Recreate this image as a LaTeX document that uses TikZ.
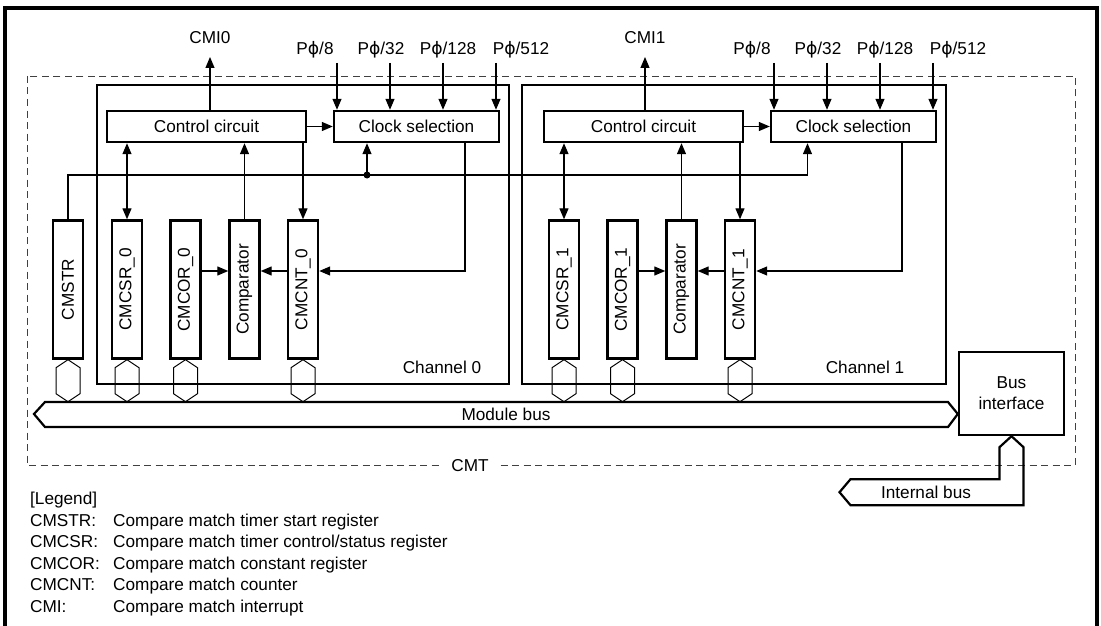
\documentclass[tikz,border=0pt]{standalone}
\usepackage{fontspec}
\usepackage{graphicx}
\setmainfont{Liberation Sans}
\newfontfamily\phifont{DejaVu Sans}
\usetikzlibrary{arrows.meta}
\newcommand{\Pphi}{P{\phifont ϕ}}

\tikzset{
    blk/.style={draw, line width=2.4pt, minimum width=#1, minimum height=31pt},
    reg/.style={draw, line width=2.4pt, minimum width=30pt, minimum height=138pt},
    txt/.style={text height=12.3pt, text depth=0pt},
    conn/.style={line width=1.2pt},
    hexa/.style={line width=1pt},
    bus/.style={line width=2.2pt, line join=miter},
    chan/.style={line width=2.6pt}
}

\begin{document}
\begin{tikzpicture}[>={Triangle[length=11pt,width=9pt]}, x=1pt, y=-1pt, inner sep=0,
    font=\fontsize{17.2}{21}\selectfont]
\useasboundingbox (0,0) rectangle (1101,626);
\draw[line width=3.2pt] (5,626) -- (5,8) -- (1097,8) -- (1097,626);
\draw[line width=.9pt, black!75, dash pattern=on 7pt off 4.5pt] (27,76) rectangle (1075,465);
\node[txt, fill=white, inner xsep=10pt, inner ysep=2pt] (cmt) at (470,465) {CMT};

\foreach \ch/\dx/\cmx/\bl/\lx in {0/0/210/97/442, 1/437/645/522/865}
{
    \draw[chan] (\bl,85) rectangle (\dx+509,384);
    \node[txt] (chl\ch) at (\lx,367) {Channel \ch};
    \node[blk=199pt] (cc\ch) at (\dx+206.5,126.5) {Control circuit};
    \node[blk=165pt] (cs\ch) at (\dx+416.5,126.5) {Clock selection};
    \node[txt] (cmi\ch) at (\cmx,37.5) {CMI\ch};
    \coordinate (cmitip\ch) at (\cmx,57);
    \draw[conn,->] (cc\ch.north -| cmi\ch) -- (cmitip\ch);
    \draw[conn,->] (cc\ch) -- (cs\ch);
    \foreach \px/\qx/\rate in {337/315/8, 390/381/32, 443/448/128, 496/521/512}
    {
        \node[txt] (p\rate\ch) at (\dx+\qx,48.5) {\Pphi/\rate};
        \coordinate (pt\rate\ch) at (\dx+\px,63);
        \draw[conn,->] (pt\rate\ch) -- (pt\rate\ch |- cs\ch.north);
    }
    \node[reg] (csr\ch) at (\dx+127,289.5) {\rotatebox{90}{CMCSR\_\ch}};
    \node[reg] (cor\ch) at (\dx+185.5,289.5) {\rotatebox{90}{CMCOR\_\ch}};
    \node[reg] (cmp\ch) at (\dx+244.5,289.5) {\rotatebox{90}{Comparator}};
    \node[reg] (cnt\ch) at (\dx+303,289.5) {\rotatebox{90}{CMCNT\_\ch}};
    \draw[conn,<->] (csr\ch.north |- cc\ch.south) -- (csr\ch.north);
    \draw[conn,->] (cmp\ch.north) -- (cmp\ch.north |- cc\ch.south);
    \draw[conn,->] (cnt\ch.north |- cc\ch.south) -- (cnt\ch.north);
    \draw[conn,->] ([xshift=48.5pt]cs\ch.south) |- ([yshift=18.5pt]cnt\ch.east);
    \draw[conn,->] ([yshift=18.5pt]cor\ch.east) -- ([yshift=18.5pt]cmp\ch.west);
    \draw[conn,->] ([yshift=18.5pt]cnt\ch.west) -- ([yshift=18.5pt]cmp\ch.east);
}

\node[reg] (cmstr) at (68,289.5) {\rotatebox{90}{CMSTR}};
\coordinate (dot) at (367,175);
\draw[conn] (cmstr.north) |- (dot);
\draw[conn,->] (dot) -- (dot |- cs0.south);
\draw[conn,->] (dot) -| ([xshift=-46pt]cs1.south);
\fill (dot) circle (3.5pt);

\foreach \r in {cmstr,csr0,cor0,cnt0,csr1,cor1,cnt1}
{
    \draw[hexa] (\r.south) -- ++(12,8) -- ++(0,26) -- ++(-12,8) -- ++(-12,-8) -- ++(0,-26) -- cycle;
}

\node[blk=105pt, minimum height=83pt, align=center] (bif) at (1011.5,393.5) {Bus\\interface};
\node[txt] (mbus) at (506,414) {Module bus};
\draw[bus] (bif.west |- mbus) -- (948,427) -- (45,427) -- (34,414) -- (45,402) -- (948,402) -- cycle;
\draw[bus] (bif.south) -- ++(12,11) -- ++(0,58) -- ++(-173,0) -- ++(-11,-13) -- ++(11,-13) -- ++(149,0) -- ++(0,-32) -- cycle;
\node[txt] (ibus) at (926,492) {Internal bus};

\node[txt, anchor=west] (lgd) at (30,498) {[Legend]};
\foreach \i/\y/\key/\desc in {1/520/CMSTR:/Compare match timer start register,
    2/541.5/CMCSR:/{Compare match timer control/status register},
    3/563/CMCOR:/Compare match constant register,
    4/584.5/CMCNT:/Compare match counter,
    5/606/CMI:/Compare match interrupt}
{
    \node[txt, anchor=west] (lk\i) at (30,\y) {\key};
    \node[txt, anchor=west] (ld\i) at (113,\y) {\desc};
}
\end{tikzpicture}
\end{document}
